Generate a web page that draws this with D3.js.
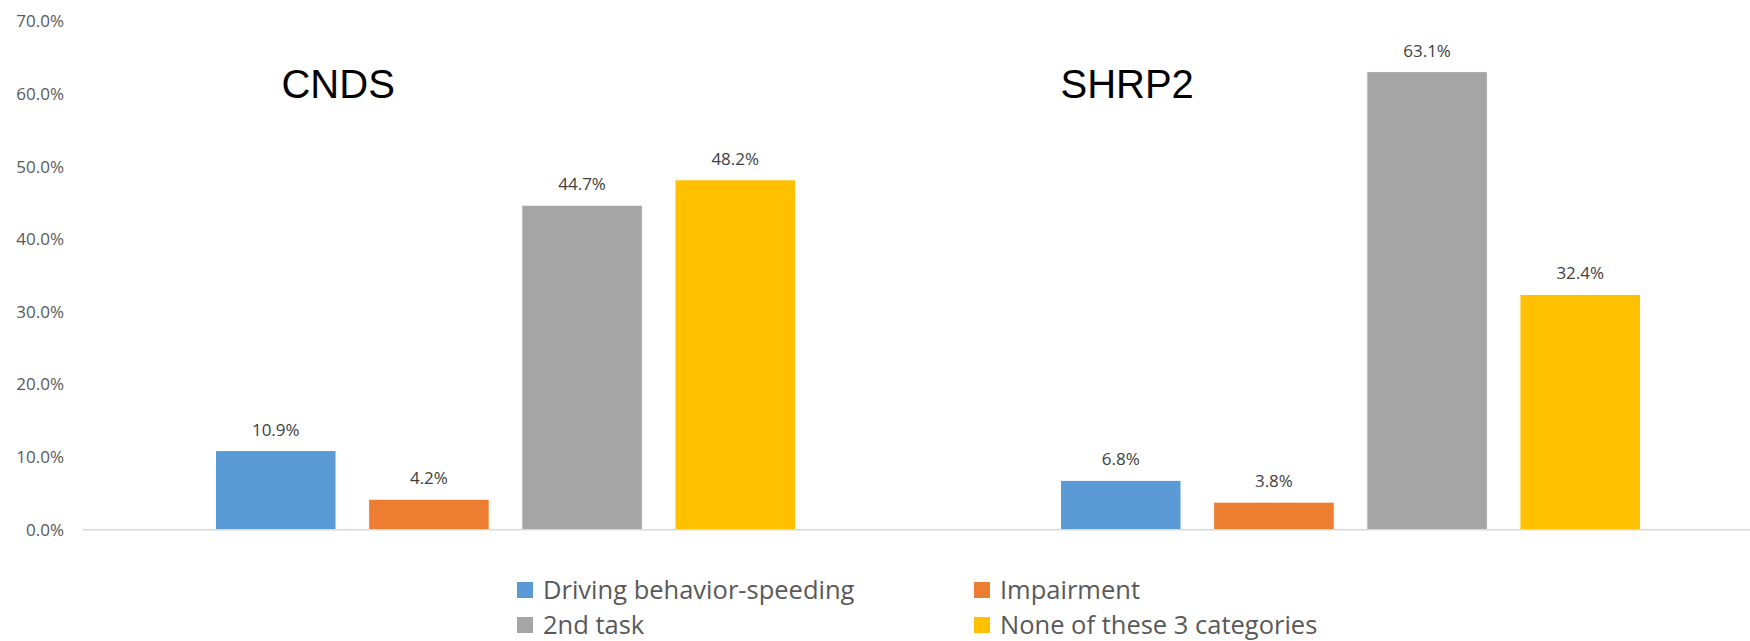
<!DOCTYPE html>
<html>
<head>
<meta charset="utf-8">
<script src="https://cdn.jsdelivr.net/npm/d3@7"></script>
<style>
  html, body { margin: 0; padding: 0; background: #fff; }
  svg { display: block; }
</style>
</head>
<body>
<div id="chart"></div>
<script>
// data
const groups = ["CNDS", "SHRP2"];
const seriesNames = ["Driving behavior-speeding", "Impairment", "2nd task", "None of these 3 categories"];
const cndsValues = [0.109, 0.042, 0.447, 0.482];
const shrp2Values = [0.068, 0.038, 0.631, 0.324];
const yTicks = [0, 0.1, 0.2, 0.3, 0.4, 0.5, 0.6, 0.7];
const colors = ["#5b9bd5", "#ed7d31", "#a5a5a5", "#ffc000"];

const width = 1750, height = 641;
const plot = { left: 83, right: 1773, top: 21.5, bottom: 529.7 };
// title shift from the first bar of each group
const titleShift = { CNDS: 66, SHRP2: 0 };

const valuesByGroup = { CNDS: cndsValues, SHRP2: shrp2Values };
const rows = groups.flatMap(g => seriesNames.map((s, i) => ({ group: g, series: s, value: valuesByGroup[g][i] })));

const svg = d3.select("#chart").append("svg")
    .attr("width", width)
    .attr("height", height);

const x0 = d3.scaleBand()
    .domain(groups)
    .range([plot.left, plot.right])
    .padding(0);

const x1 = d3.scaleBand()
    .domain(seriesNames)
    .range([0, x0.bandwidth()])
    .paddingInner(0.213)
    .paddingOuter(0.865);

const y = d3.scaleLinear()
    .domain([0, 0.7])
    .range([plot.bottom, plot.top]);

const color = d3.scaleOrdinal().domain(seriesNames).range(colors);
const pct = d3.format(".1%");

// y axis labels, no line, no ticks
const yAxisG = svg.append("g")
    .attr("transform", `translate(${plot.left},0)`)
    .call(d3.axisLeft(y).tickValues(yTicks).tickFormat(pct).tickSize(0).tickPadding(19));
yAxisG.select(".domain").remove();
yAxisG.selectAll("text")
    .attr("font-family", "'Open Sans', sans-serif")
    .attr("font-size", 17)
    .attr("fill", "#595959");

// bars
svg.append("g")
    .selectAll("rect")
    .data(rows)
    .join("rect")
    .attr("x", d => x0(d.group) + x1(d.series))
    .attr("y", d => y(d.value))
    .attr("width", x1.bandwidth())
    .attr("height", d => y(0) - y(d.value))
    .attr("fill", d => color(d.series))
    .attr("stroke", "#fff")
    .attr("stroke-width", 1);

// category axis line
svg.append("line")
    .attr("x1", plot.left)
    .attr("x2", plot.right)
    .attr("y1", y(0))
    .attr("y2", y(0))
    .attr("stroke", "#d9d9d9")
    .attr("stroke-width", 1.5);

// data labels
svg.append("g")
    .selectAll("text")
    .data(rows)
    .join("text")
    .attr("x", d => x0(d.group) + x1(d.series) + x1.bandwidth() / 2)
    .attr("y", d => y(d.value) - 15)
    .attr("text-anchor", "middle")
    .attr("font-family", "'Open Sans', sans-serif")
    .attr("font-size", 17)
    .attr("fill", "#404040")
    .text(d => pct(d.value));

// group titles inside the plot
svg.append("g")
    .selectAll("text")
    .data(groups)
    .join("text")
    .attr("x", d => x0(d) + x1(seriesNames[0]) + titleShift[d])
    .attr("y", 98.3)
    .attr("font-family", "'Liberation Sans', Arial, sans-serif")
    .attr("font-size", 40)
    .attr("fill", "#000")
    .text(d => d);

// legend, 2 columns
const legend = svg.append("g").attr("transform", "translate(517,582)");
const item = legend.selectAll("g")
    .data(seriesNames)
    .join("g")
    .attr("transform", (d, i) => `translate(${(i % 2) * 457},${Math.floor(i / 2) * 35})`);
item.append("rect")
    .attr("width", 16)
    .attr("height", 16)
    .attr("fill", d => color(d));
item.append("text")
    .attr("x", 26)
    .attr("y", 8)
    .attr("dy", "0.36em")
    .attr("font-family", "'Open Sans', sans-serif")
    .attr("font-size", 25.5)
    .attr("fill", "#595959")
    .text(d => d);
</script>
</body>
</html>
